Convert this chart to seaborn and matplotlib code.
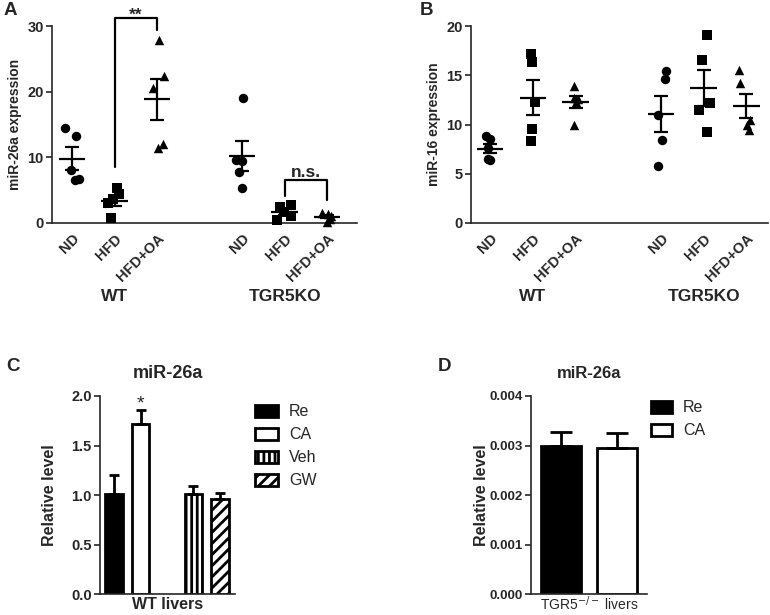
import warnings
warnings.filterwarnings("ignore")
import numpy as np
import pandas as pd
import matplotlib
matplotlib.use("Agg")
import matplotlib.pyplot as plt
import matplotlib.transforms as mtransforms
import seaborn as sns

# ---- data ----
diets = ["ND", "HFD", "HFD+OA"]
genotypes = ["WT", "TGR5KO"]

# panel A: miR-26a expression, 5 mice per group
a_wt_nd = [14.5, 13.2, 8.1, 6.6, 6.7]
a_wt_hfd = [5.3, 4.4, 3.6, 3.0, 0.8]
a_wt_hfdoa = [27.8, 22.4, 20.5, 11.4, 12.1]
a_ko_nd = [19.0, 9.4, 9.6, 7.7, 5.4]
a_ko_hfd = [2.8, 2.4, 1.7, 1.0, 0.4]
a_ko_hfdoa = [1.5, 1.4, 1.0, 0.6, 0.2]

# panel B: miR-16 expression
b_wt_nd = [8.8, 8.5, 7.6, 6.4, 6.5]
b_wt_hfd = [16.3, 17.2, 12.3, 8.3, 9.5]
b_wt_hfdoa = [13.9, 12.7, 12.6, 12.3, 9.9]
b_ko_nd = [15.4, 14.6, 11.0, 8.4, 5.8]
b_ko_hfd = [19.1, 16.5, 12.2, 11.5, 9.2]
b_ko_hfdoa = [15.5, 14.2, 10.5, 9.9, 9.4]

# significance brackets in A: (x_left, x_right, top, left_drop, right_drop, text)
a_brackets = [(1, 2, 31.2, 8.6, 29.4, "**"),
              (5, 6, 6.6, 4.05, 3.5, "n.s.")]

# panel C: WT livers
c_labels = ["Re", "CA", "Veh", "GW"]
c_means = [1.01, 1.72, 1.01, 0.96]
c_err = [0.19, 0.14, 0.08, 0.065]

# panel D: TGR5-/- livers
d_labels = ["Re", "CA"]
d_means = [0.00299, 0.00294]
d_err = [0.00028, 0.00031]

# ---- layout / style ----
pos_map = {("WT", "ND"): 0, ("WT", "HFD"): 1, ("WT", "HFD+OA"): 2,
           ("TGR5KO", "ND"): 4, ("TGR5KO", "HFD"): 5, ("TGR5KO", "HFD+OA"): 6}
diet_markers = {"ND": "o", "HFD": "s", "HFD+OA": "^"}
c_pos = [0, 1, 3, 4]
c_fill = ["black", "white", "white", "white"]
c_hatch = ["", "", "|||", "///"]
d_pos = [0, 1]
d_fill = ["black", "white"]

sns.set_style("ticks")
plt.rcParams["font.family"] = ["Liberation Sans", "DejaVu Sans"]
plt.rcParams["hatch.linewidth"] = 2.0
plt.rcParams["axes.linewidth"] = 1.2
np.random.seed(7)  # stripplot jitter only


def make_long(groups):
    rows = []
    for (geno, diet), vals in groups.items():
        for v in vals:
            rows.append({"genotype": geno, "diet": diet, "value": v, "pos": pos_map[(geno, diet)]})
    return pd.DataFrame(rows)


df_a = make_long({("WT", "ND"): a_wt_nd, ("WT", "HFD"): a_wt_hfd, ("WT", "HFD+OA"): a_wt_hfdoa,
                  ("TGR5KO", "ND"): a_ko_nd, ("TGR5KO", "HFD"): a_ko_hfd, ("TGR5KO", "HFD+OA"): a_ko_hfdoa})
df_b = make_long({("WT", "ND"): b_wt_nd, ("WT", "HFD"): b_wt_hfd, ("WT", "HFD+OA"): b_wt_hfdoa,
                  ("TGR5KO", "ND"): b_ko_nd, ("TGR5KO", "HFD"): b_ko_hfd, ("TGR5KO", "HFD+OA"): b_ko_hfdoa})


def scatter_panel(ax, df, ymax, yticks, ylabel, xlim):
    # native_scale: jitter is relative to the 4-unit spacing between same-diet groups
    for diet in diets:
        sub = df[df["diet"] == diet]
        sns.stripplot(data=sub, x="pos", y="value", native_scale=True, marker=diet_markers[diet],
                      jitter=0.045, color="black", size=6.8, ax=ax, clip_on=False, zorder=3,
                      linewidth=0)
    stats = df.groupby("pos")["value"].agg(["mean", "sem"])
    xs = stats.index.values.astype(float)
    ax.hlines(stats["mean"], xs - 0.31, xs + 0.31, color="black", lw=1.6, zorder=4)
    ax.errorbar(xs, stats["mean"], yerr=stats["sem"], fmt="none", ecolor="black",
                elinewidth=1.6, capsize=4.7, capthick=1.6, zorder=4)
    ax.set_ylim(0, ymax)
    ax.set_xlim(*xlim)
    ax.set_yticks(yticks)
    ax.set_yticklabels([str(t) for t in yticks], fontsize=10.5, fontweight="bold")
    ticks = [pos_map[(g, d)] for g in genotypes for d in diets]
    ax.set_xticks(ticks)
    ax.set_xticklabels(diets * 2, rotation=45, ha="right", rotation_mode="anchor",
                       fontsize=10.5, fontweight="bold")
    ax.tick_params(axis="x", length=0, pad=6)
    ax.tick_params(axis="y", length=4, width=1.2, pad=2)
    ax.set_xlabel("")
    ax.set_ylabel(ylabel, fontsize=10, fontweight="bold", labelpad=4)
    trans = mtransforms.blended_transform_factory(ax.transData, ax.transAxes)
    for geno in genotypes:
        ax.text(pos_map[(geno, "HFD")], -0.375, geno, transform=trans, ha="center", va="center",
                fontsize=12.5, fontweight="bold")
    sns.despine(ax=ax)


fig = plt.figure(figsize=(7.7, 6.15), dpi=100)

# ---- A ----
ax_a = fig.add_axes([0.0675, 0.6374, 0.3961, 0.3203])
scatter_panel(ax_a, df_a, 30, [0, 10, 20, 30], "miR-26a expression", (-0.47, 6.7))
for x0, x1, top, l_drop, r_drop, txt in a_brackets:
    ax_a.plot([x0, x0, x1, x1], [l_drop, top, top, r_drop], color="black", lw=1.6,
              clip_on=False, zorder=5)
    off = -0.2 if txt == "**" else 0.4
    ax_a.text((x0 + x1) / 2, top + off, txt, ha="center", va="baseline", fontsize=12.5,
              fontweight="bold", clip_on=False)

# ---- B ----
ax_b = fig.add_axes([0.6117, 0.6374, 0.3853, 0.3203])
scatter_panel(ax_b, df_b, 20, [0, 5, 10, 15, 20], "miR-16 expression", (-0.45, 6.5))

# ---- C ----
ax_c = fig.add_axes([0.1299, 0.0341, 0.1753, 0.3220])
df_c = pd.DataFrame({"treat": c_labels, "level": c_means, "pos": c_pos})
sns.barplot(data=df_c, x="pos", y="level", hue="treat", native_scale=True,
            palette=dict(zip(c_labels, c_fill)), saturation=1, edgecolor="black",
            linewidth=2, width=0.66, errorbar=None, legend=False, ax=ax_c)
for cont, h in zip(ax_c.containers, c_hatch):
    for p in cont.patches:
        p.set_hatch(h)
        p.set_edgecolor("black")
ax_c.errorbar(c_pos, c_means, yerr=[np.zeros(len(c_means)), c_err], fmt="none", ecolor="black",
              elinewidth=2, capsize=3.6, capthick=2, zorder=1)
ax_c.text(c_pos[1], c_means[1] + c_err[1] + 0.01, "*", ha="center", va="baseline", fontsize=14)
ax_c.set_ylim(0, 2.0)
ax_c.set_xlim(-0.53, 4.57)
ax_c.set_yticks([0, 0.5, 1.0, 1.5, 2.0])
ax_c.set_yticklabels(["0.0", "0.5", "1.0", "1.5", "2.0"], fontsize=10.5, fontweight="bold")
ax_c.set_xticks([])
ax_c.tick_params(axis="y", length=4, width=1.2, pad=2)
ax_c.set_xlabel("WT livers", fontsize=11.5, fontweight="bold", labelpad=2)
ax_c.set_ylabel("Relative level", fontsize=11.5, fontweight="bold", labelpad=10)
ax_c.set_title("miR-26a", fontsize=13, fontweight="bold", pad=13)
ax_c.legend(handles=list(ax_c.containers), labels=c_labels, loc="upper left",
            bbox_to_anchor=(1.1, 0.99), borderaxespad=0, frameon=False, fontsize=11.5,
            handlelength=1.45, handleheight=0.8, labelspacing=0.5, handletextpad=0.7)
sns.despine(ax=ax_c)

# ---- D ----
ax_d = fig.add_axes([0.6896, 0.0341, 0.1507, 0.3220])
df_d = pd.DataFrame({"treat": d_labels, "level": d_means, "pos": d_pos})
sns.barplot(data=df_d, x="pos", y="level", hue="treat", native_scale=True,
            palette=dict(zip(d_labels, d_fill)), saturation=1, edgecolor="black",
            linewidth=2, width=0.71, errorbar=None, legend=False, ax=ax_d)
ax_d.errorbar(d_pos, d_means, yerr=[np.zeros(len(d_means)), d_err], fmt="none", ecolor="black",
              elinewidth=2, capsize=8, capthick=2, zorder=1)
ax_d.set_ylim(0, 0.004)
ax_d.set_xlim(-0.54, 1.54)
ax_d.set_yticks([0, 0.001, 0.002, 0.003, 0.004])
ax_d.set_yticklabels(["0.000", "0.001", "0.002", "0.003", "0.004"], fontsize=9.5, fontweight="bold")
ax_d.set_xticks([])
ax_d.tick_params(axis="y", length=4, width=1.2, pad=2)
ax_d.set_xlabel("TGR5$^{-/-}$ livers", fontsize=10, labelpad=0)
ax_d.set_ylabel("Relative level", fontsize=11.5, fontweight="bold", labelpad=0)
ax_d.set_title("miR-26a", fontsize=12, fontweight="bold", pad=13)
ax_d.legend(handles=list(ax_d.containers), labels=d_labels, loc="upper left",
            bbox_to_anchor=(0.98, 1.01), borderaxespad=0, frameon=False, fontsize=11.5,
            handlelength=1.3, handleheight=0.8, labelspacing=0.5, handletextpad=0.7)
sns.despine(ax=ax_d)

# panel letters
for lbl, x, y in [("A", 0.005, 0.997), ("B", 0.545, 0.997), ("C", 0.008, 0.418), ("D", 0.568, 0.418)]:
    fig.text(x, y, lbl, fontsize=13.5, fontweight="bold", ha="left", va="top")

fig.savefig("out.png", dpi=100)
